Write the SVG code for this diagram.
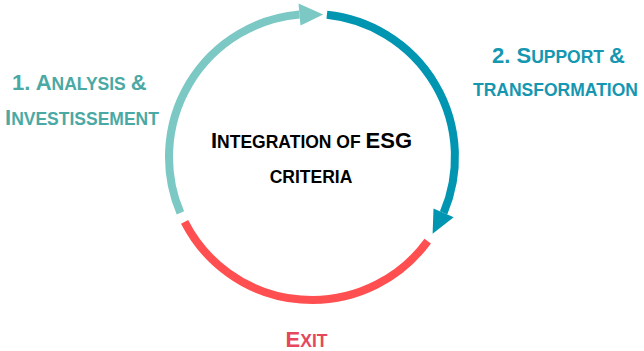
<svg xmlns="http://www.w3.org/2000/svg" width="644" height="351" viewBox="0 0 644 351">
  <style>
    text { font-family: "Liberation Sans", Arial, sans-serif; font-weight: bold; }
    .big { font-size: 22px; }
    .sm { font-size: 17.5px; }
    .arc { fill: none; stroke-width: 8; }
    .c1 { stroke: #7CC8C4; }
    .c2 { stroke: #0096B1; }
    .c3 { stroke: #FF4F50; }
    .h1 { fill: #7CC8C4; }
    .h2 { fill: #0096B1; }
    .t1 { fill: #4AA9A4; }
    .t2 { fill: #1597B1; }
    .t3 { fill: #E6475C; }
    .t0 { fill: #000000; }
  </style>
  <rect width="644" height="351" fill="#FFFFFF"/>
  <g id="connectors">
    <path class="arc c1" d="M180.4,212.9 A143,143 0 0 1 299.5,14.5"/>
    <polygon class="h1" points="298.5,3.5 323.2,14.4 300.5,25.5"/>
    <path class="arc c2" d="M326.9,14.8 A143,143 0 0 1 443.6,212.9"/>
    <polygon class="h2" points="453.7,217.2 432.6,233.8 433.5,208.6"/>
    <path class="arc c3" d="M427.7,241.1 A143,143 0 0 1 184.6,221.9"/>
  </g>
  <g id="center">
    <text class="t0" x="311.5" y="148" text-anchor="middle"><tspan class="big">I</tspan><tspan class="sm">NTEGRATION OF </tspan><tspan class="big">ESG</tspan></text>
    <text class="t0 sm" x="311" y="183" text-anchor="middle">CRITERIA</text>
  </g>
  <g id="analysis">
    <text class="t1" x="12" y="90"><tspan class="big">1. A</tspan><tspan class="sm">NALYSIS </tspan><tspan class="big">&amp;</tspan></text>
    <text class="t1" x="5" y="125"><tspan class="big">I</tspan><tspan class="sm">NVESTISSEMENT</tspan></text>
  </g>
  <g id="support">
    <text class="t2" x="492" y="63"><tspan class="big">2. S</tspan><tspan class="sm">UPPORT </tspan><tspan class="big">&amp;</tspan></text>
    <text class="t2 sm" x="473" y="96">TRANSFORMATION</text>
  </g>
  <g id="exit">
    <text class="t3" x="306.5" y="347" text-anchor="middle"><tspan class="big">E</tspan><tspan class="sm">XIT</tspan></text>
  </g>
</svg>
